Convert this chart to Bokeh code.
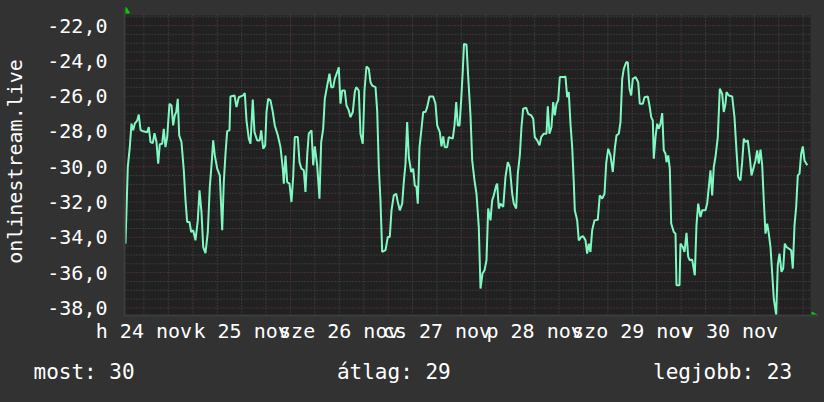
import math
from bokeh.plotting import figure
from bokeh.models import Range1d, FixedTicker, Title, BoxAnnotation
from bokeh.embed import file_html
from bokeh.resources import INLINE

# hours since 24 Nov 00:00
hours = [7.46, 7.71, 8.03, 8.52, 8.94, 9.35, 9.75, 10.34, 10.73, 11.15, 11.57, 12.80, 13.19, 13.61, 14.17,
         14.59, 15.08, 15.50, 15.89, 16.48, 16.87, 17.29, 17.71, 18.27, 18.77, 19.18, 19.58, 19.92, 20.31,
         20.66, 21.22, 21.79, 22.21, 22.62, 23.19, 23.61, 24.10, 24.66, 25.23, 25.65, 26.14, 26.56, 27.12,
         27.69, 28.18, 28.60, 29.01, 29.41, 30.00, 30.64, 31.23, 31.62, 32.04, 32.45, 33.02, 33.26, 34.25,
         34.74, 35.30, 36.39, 36.78, 37.20, 37.76, 38.18, 38.74, 39.16, 39.83, 40.46, 40.81, 41.30, 41.79,
         42.11, 42.53, 43.09, 43.66, 44.15, 44.89, 45.55, 46.12, 46.36, 46.78, 47.20, 47.76, 48.25, 48.67,
         49.06, 49.80, 50.22, 50.71, 51.28, 51.69, 52.11, 52.50, 53.17, 53.59, 53.98, 54.57, 55.13, 55.55,
         56.04, 56.44, 57.03, 57.59, 58.01, 58.50, 58.89, 59.48, 59.88, 60.29, 60.71, 61.35, 61.77, 62.33,
         62.75, 63.32, 63.81, 64.15, 64.79, 65.21, 65.77, 66.19, 66.68, 67.25, 67.67, 68.08, 68.90, 69.31,
         69.71, 70.12, 70.54, 71.35, 71.92, 72.41, 72.83, 73.39, 73.98, 74.38, 74.87, 75.46, 75.85, 76.27,
         76.68, 77.08, 77.67, 78.16, 78.55, 78.97, 79.29, 79.71, 80.20, 80.62, 81.18, 81.60, 82.16, 83.07,
         83.64, 84.06, 84.70, 85.11, 85.53, 85.92, 86.51, 86.91, 87.89, 88.31, 88.73, 89.12, 89.54, 89.95,
         90.35, 90.64, 91.26, 91.68, 92.24, 92.66, 93.22, 93.71, 94.28, 94.70, 95.19, 95.68, 96.17, 96.59,
         97.15, 97.57, 97.97, 98.56, 98.80, 99.19, 99.61, 100.28, 100.84, 101.41, 101.90, 102.49, 102.88,
         103.47, 103.86, 104.36, 104.77, 105.19, 105.93, 106.42, 107.16, 107.65, 108.04, 108.63, 109.20,
         109.61, 110.25, 110.92, 111.24, 111.65, 112.14, 112.56, 112.95, 113.37, 113.79, 114.19, 115.17,
         115.58, 116.00, 116.39, 116.81, 117.23, 117.62, 117.87, 118.46, 118.85, 119.44, 119.93, 120.50,
         120.91, 121.31, 121.72, 122.14, 122.71, 123.52, 124.01, 124.60, 125.17, 125.58, 126.08, 126.64,
         127.21, 127.70, 128.12, 128.68, 129.10, 129.52, 129.91, 130.50, 130.89, 131.31, 131.73, 132.12,
         132.79, 133.45, 133.84, 134.58, 135.00, 135.81, 136.23, 136.65, 137.04, 137.28, 137.70, 138.12,
         138.51, 138.93, 139.35, 139.74, 140.16, 140.41, 140.82, 141.22, 141.56, 142.20, 142.62, 142.86,
         143.60, 143.84, 144.41, 144.83, 145.32, 145.74, 146.13, 146.72, 147.36, 147.77, 148.19, 148.76,
         149.17, 149.98, 150.40, 150.80, 151.21, 151.63, 152.02, 152.44, 153.01, 153.50, 154.09, 154.48,
         154.90, 155.15, 155.71, 156.55, 157.11, 157.60, 158.02, 158.58, 159.00, 159.40, 159.81, 160.38,
         160.87, 161.29, 161.85, 162.27, 162.69, 163.08, 163.50, 163.92, 164.31, 164.73, 165.15, 165.54,
         165.96, 166.38, 166.77, 167.36, 167.75, 168.17, 168.66, 169.08, 169.47, 169.89, 170.46, 171.04,
         171.44, 171.86, 172.27, 172.67, 173.09, 173.50, 173.90, 174.31, 174.98]

values = [-34.36, -32.47, -30.02, -28.89, -27.56, -27.94, -27.56, -27.38, -27.04, -27.90, -27.98, -28.04,
          -27.75, -28.60, -28.66, -28.10, -28.60, -29.83, -28.73, -28.70, -27.85, -28.89, -28.32, -26.43,
          -26.53, -27.66, -27.09, -26.90, -26.15, -28.22, -28.60, -30.20, -31.90, -33.13, -33.13, -33.70,
          -33.60, -34.17, -33.04, -31.34, -32.57, -34.55, -34.89, -33.70, -31.15, -29.92, -28.51, -29.36,
          -30.11, -30.49, -33.60, -30.87, -29.26, -27.98, -27.94, -26.02, -25.96, -26.62, -26.06, -25.96,
          -25.83, -27.38, -28.41, -28.70, -26.20, -28.04, -28.51, -28.51, -27.94, -28.98, -28.79, -26.90,
          -26.15, -26.24, -26.90, -27.66, -28.22, -28.89, -30.11, -30.96, -29.36, -30.87, -30.96, -32.00,
          -30.58, -28.32, -28.32, -29.74, -30.11, -30.20, -31.43, -29.36, -28.13, -27.94, -29.92, -28.85,
          -29.92, -31.81, -28.60, -27.85, -26.15, -25.40, -24.73, -25.49, -25.49, -25.02, -24.64, -24.36,
          -26.43, -25.68, -25.68, -26.53, -26.81, -27.19, -26.90, -25.77, -25.49, -25.68, -28.13, -28.70,
          -25.68, -24.32, -24.45, -25.21, -25.40, -25.49, -26.81, -30.02, -31.90, -34.83, -34.73, -33.98,
          -33.98, -32.47, -31.62, -31.53, -32.00, -32.47, -32.09, -30.87, -29.83, -27.47, -29.45, -30.30,
          -30.11, -31.06, -31.15, -32.09, -28.89, -27.85, -26.90, -26.90, -26.62, -26.02, -26.02, -26.43,
          -27.66, -28.04, -28.85, -28.28, -28.89, -28.89, -28.32, -28.41, -27.66, -26.34, -27.66, -27.66,
          -26.24, -24.55, -23.04, -23.08, -24.92, -27.09, -29.64, -30.77, -31.53, -33.41, -36.90, -36.05,
          -35.87, -35.30, -32.37, -33.04, -31.90, -31.62, -31.06, -30.96, -32.37, -32.09, -32.28, -30.58,
          -29.74, -30.02, -31.53, -32.09, -32.37, -30.39, -29.36, -27.75, -26.71, -26.66, -27.00, -27.09,
          -27.28, -28.32, -28.51, -28.79, -28.32, -28.13, -28.13, -26.58, -28.13, -27.75, -26.34, -27.09,
          -26.43, -26.24, -24.92, -24.92, -24.89, -26.06, -25.77, -27.56, -28.89, -30.87, -32.47, -33.04,
          -34.17, -33.98, -33.94, -34.17, -34.92, -34.36, -34.83, -33.60, -33.04, -33.00, -31.62, -31.81,
          -31.53, -29.83, -28.98, -29.36, -30.30, -28.98, -28.22, -28.13, -27.47, -25.02, -24.45, -24.08,
          -24.08, -25.58, -25.96, -25.02, -24.92, -25.21, -26.43, -26.43, -26.06, -26.02, -26.53, -27.19,
          -27.38, -29.55, -28.32, -27.56, -27.85, -27.56, -26.96, -29.07, -29.26, -29.74, -29.36, -30.11,
          -33.22, -33.70, -33.79, -36.71, -36.71, -34.36, -34.55, -34.83, -33.75, -35.11, -35.30, -35.26,
          -36.15, -33.32, -32.09, -32.85, -32.47, -32.47, -32.09, -31.15, -30.20, -31.62, -30.02, -29.45,
          -28.32, -25.58, -25.87, -26.90, -26.43, -25.77, -25.96, -26.02, -27.19, -29.07, -30.58, -30.77,
          -29.74, -28.41, -28.60, -28.51, -29.45, -30.49, -30.02, -29.64, -29.07, -29.83, -29.03, -29.92,
          -31.90, -33.79, -33.22, -33.79, -34.55, -36.05, -37.47, -38.41, -35.58, -34.92, -35.96, -35.77,
          -34.36, -34.55, -34.64, -34.73, -35.77, -33.32, -32.28, -30.49, -30.39, -29.26, -28.85, -29.64,
          -29.92]

day_labels = ["h 24 nov", "k 25 nov", "sze 26 nov", "cs 27 nov", "p 28 nov", "szo 29 nov", "v 30 nov"]
y_ticks = [-38, -36, -34, -32, -30, -28, -26, -24, -22]
y_title = "onlinestream.live"
legend_texts = ["most: 30", "átlag: 29", "legjobb: 23"]

# plot-area data limits
X_LO, X_HI = 7.22, 175.79
Y_LO, Y_HI = -38.43, -21.43

BG = "#323232"
PLOT_BG = "#212121"
TXT = "#ffffff"
FONT = "DejaVu Sans Mono"
LINE = "#80F8C2"
MINOR = "#505050"
MAJOR = "#703c3c"
ARROW = "#00d000"

# frame extends a few pixels beyond the plot area (room for axis arrows)
PLOT_W, PLOT_H = 686, 300
hpp = (X_HI - X_LO) / PLOT_W
upp = (Y_HI - Y_LO) / PLOT_H

p = figure(width=824, height=402, output_backend="svg", toolbar_location=None,
           x_range=Range1d(X_LO, X_HI + 8 * hpp), y_range=Range1d(Y_LO, Y_HI + 8 * upp),
           min_border_left=124, min_border_right=6, min_border_top=7, min_border_bottom=87,
           background_fill_color=BG, border_fill_color=BG, outline_line_color=None)
p.grid.visible = False

p.add_layout(BoxAnnotation(left=X_LO, right=X_HI, bottom=Y_LO, top=Y_HI, fill_color=PLOT_BG,
                           fill_alpha=1, line_color=None, level="underlay"))

# grid lines
minor_x = [h for h in range(0, 192, 6) if h % 24 and X_LO <= h <= X_HI]
major_x = [h for h in range(0, 192, 24) if X_LO <= h <= X_HI]
minor_y = [v / 2 for v in range(-78, -41) if v % 4 and Y_LO <= v / 2 <= Y_HI]
major_y = [v for v in range(-38, -20, 2) if Y_LO <= v <= Y_HI]
for ticks, color in ((minor_x, MINOR), (major_x, MAJOR)):
    p.segment(x0=ticks, y0=[Y_LO] * len(ticks), x1=ticks, y1=[Y_HI + 2 * upp] * len(ticks),
              line_color=color, line_dash="1 2", line_width=1)
for ticks, color in ((minor_y, MINOR), (major_y, MAJOR)):
    p.segment(x0=[X_LO] * len(ticks), y0=ticks, x1=[X_HI] * len(ticks), y1=ticks,
              line_color=color, line_dash="1 2", line_width=1)

p.line(hours, values, line_color=LINE, line_width=2)

# axis arrows
p.scatter([X_LO + 1.5 * hpp], [Y_HI + 4.5 * upp], marker="triangle", size=7,
          fill_color=ARROW, line_color=ARROW)
p.scatter([X_HI + 3.5 * hpp], [Y_LO], marker="triangle", size=7, angle=-math.pi / 2,
          fill_color=ARROW, line_color=ARROW)

# x axis
label_hours = [12 + 24 * i for i in range(len(day_labels))]
p.xaxis.ticker = FixedTicker(ticks=label_hours)
p.xaxis.major_label_overrides = {h: t for h, t in zip(label_hours, day_labels)}
# y axis
p.yaxis.ticker = FixedTicker(ticks=y_ticks)
p.yaxis.major_label_overrides = {t: f"{t:.1f}".replace(".", ",") for t in y_ticks}
p.yaxis.axis_label = y_title

for ax in (p.xaxis[0], p.yaxis[0]):
    ax.major_tick_line_color = None
    ax.minor_tick_line_color = None
    ax.major_tick_out = 0
    ax.major_tick_in = 0
    ax.axis_line_color = "#3c3c3c"
    ax.axis_line_width = 2
    ax.major_label_text_font = FONT
    ax.major_label_text_font_size = "20px"
    ax.major_label_text_color = TXT
    ax.axis_label_text_font = FONT
    ax.axis_label_text_font_size = "20px"
    ax.axis_label_text_font_style = "normal"
    ax.axis_label_text_color = TXT
p.yaxis.major_label_standoff = 17
p.yaxis.axis_label_standoff = 17
p.xaxis.major_label_standoff = 3

# legend line (monospace, fixed columns)
gap = "\u00a0" * 16
legend_line = gap.join(legend_texts)
p.add_layout(Title(text=legend_line, align="left", offset=-91, text_font=FONT, text_font_size="21px",
                   text_color=TXT, text_font_style="normal", standoff=24), "below")

html = file_html(p, INLINE, title="onlinestream.live")
html = html.replace("</head>", "<style>html,body{margin:0;padding:0;background:#323232;overflow:hidden;}</style></head>")
open("out.html", "w").write(html)
